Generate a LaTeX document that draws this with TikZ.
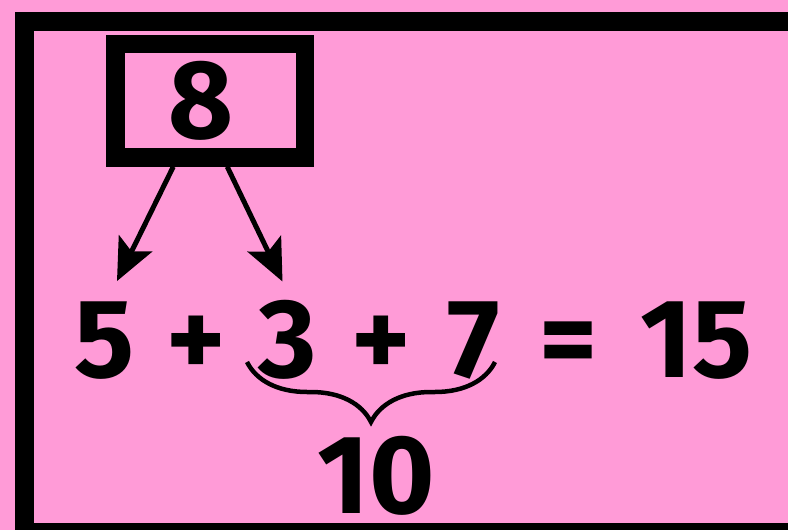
\documentclass[tikz,border=0pt]{standalone}
\usepackage{fontspec}
\setmainfont{Fira Sans}
\usetikzlibrary{arrows.meta,decorations.pathreplacing}
\definecolor{bgpink}{RGB}{255,155,215}

\begin{document}
\begin{tikzpicture}[
  x=1pt, y=-1pt,
  font=\bfseries\fontsize{112}{112}\selectfont,
  digit/.style={inner sep=0pt, anchor=base},
  numbox/.style={draw, line width=18.5pt, minimum width=189.5pt,
                 minimum height=113.5pt, inner sep=0pt},
  link/.style={line width=5pt, -{Stealth[length=42pt, width=37pt, inset=9pt]}},
  sumbrace/.style={decorate, decoration={brace, mirror, amplitude=60pt},
                   line width=4.5pt}
]
\fill[bgpink] (0,0) rectangle (788,530);
\useasboundingbox (0,0) rectangle (788,530);
\begin{scope}
  \clip (0,0) rectangle (788,530);
  \draw[line width=19pt] (24.5,21) rectangle (820,532.5);
\end{scope}
% the number that is split
\node[numbox] (box) at (210.25,100.75) {};
\node[digit] (n8) at (201,138) {8};
% the sum
\node[digit] (n5)  at (105,377)   {5};
\node[digit] (p1)  at (196.5,377) {+};
\node[digit] (n3)  at (287.5,377) {3};
\node[digit] (p2)  at (381.5,377) {+};
\node[digit] (n7)  at (474,377)   {7};
\node[digit] (eq)  at (568.5,377) {=};
\node[digit] (n15) at (696.5,377) {15};
\node[digit] (n10) at (376,513)   {10};
\draw[link] ([xshift=-37pt]box.south) -- ([xshift=12pt, yshift=20pt]n5.north);
\draw[link] ([xshift=17pt]box.south) -- ([xshift=-5pt, yshift=18pt]n3.north);
\coordinate (bl) at (247,362);
\coordinate (br) at (495,362);
\draw[sumbrace] (bl) -- (br);
\end{tikzpicture}
\end{document}
